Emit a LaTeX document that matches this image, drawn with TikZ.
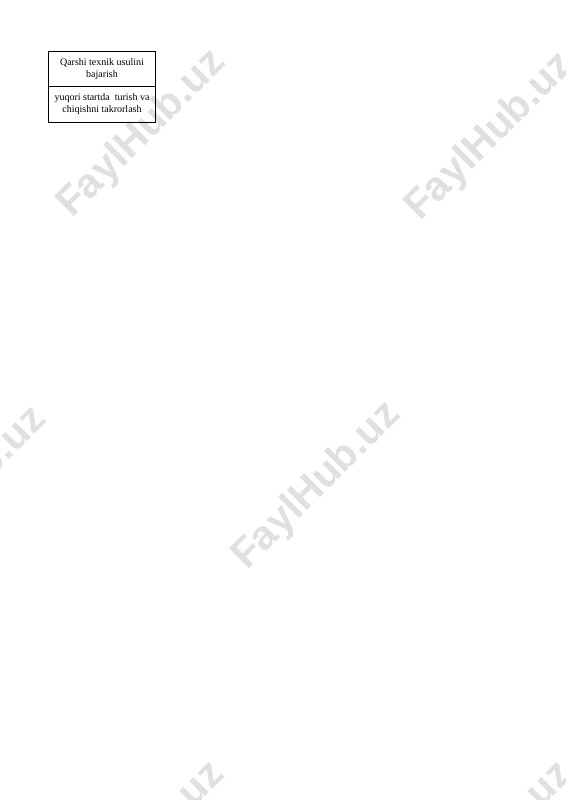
\documentclass[tikz,border=0pt]{standalone}
\usepackage{fontspec}
\setmainfont{Liberation Serif}
\newfontfamily\wmfont{Liberation Sans}
\definecolor{wmgray}{RGB}{224,224,224}
\tikzset{
  wmark/.style={text=wmgray, font=\wmfont\bfseries\fontsize{41}{46}\selectfont, rotate=45, inner sep=0pt, anchor=center},
  cellbox/.style={draw=black, line width=0.7pt, minimum width=107.4pt, minimum height=35.7pt, inner sep=1pt, align=center, font=\fontsize{10}{12}\selectfont},
  cellbold/.style={cellbox, line width=1pt}
}
\begin{document}
\begin{tikzpicture}[x=1pt,y=-1pt]
\clip (0,0) rectangle (565,800);
\fill[white] (0,0) rectangle (565,800);
% watermarks
\node[wmark] (wm1) at (142,134) {FaylHub.uz};
\node[wmark] (wm2) at (490,137) {FaylHub.uz};
\node[wmark] (wm3) at (317,486) {FaylHub.uz};
\node[wmark] (wm4) at (-37,491) {FaylHub.uz};
\node[wmark] (wm5) at (141,846) {FaylHub.uz};
\node[wmark] (wm6) at (489,846) {FaylHub.uz};
% table
\node[cellbox] (c1) at (102,68.85) {Qarshi texnik usulini\\bajarish};
\node[cellbold] (c2) at (102,104.5) {yuqori startda~ turish va\\chiqishni takrorlash};
\end{tikzpicture}
\end{document}
